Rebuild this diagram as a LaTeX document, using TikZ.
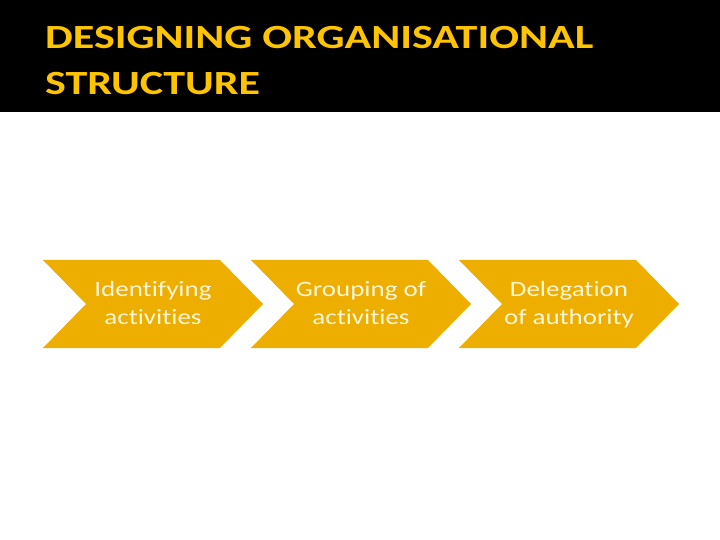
\documentclass[tikz,border=0pt]{standalone}
\usepackage{fontspec}
\setmainfont{Carlito}[Ligatures=NoCommon, FakeStretch=1.23]
\definecolor{gold}{RGB}{238,174,0}
\definecolor{titlegold}{RGB}{255,196,0}
\definecolor{cream}{RGB}{255,246,214}
\begin{document}
\begin{tikzpicture}[x=1bp, y=-1bp,
  every node/.style={font=\fontsize{22}{28}\selectfont, align=center, inner sep=0, text depth=0pt},
  chev/.style={fill=gold}
]
\useasboundingbox (0,0) rectangle (720,540);
\fill[black] (0,0) rectangle (720,112);
\node[anchor=south west, text=titlegold, font=\bfseries\fontsize{34}{46}\selectfont\addfontfeature{FakeStretch=1.3}, align=left] (title) at (45,95) {DESIGNING ORGANISATIONAL\\STRUCTURE};
\foreach \x/\n/\t in {43/ident/{Identifying\\activities}, 251/group/{Grouping of\\activities}, 459/deleg/{Delegation\\of authority}} {
  \fill[chev] (\x,260) -- ++(177,0) -- ++(43,44) -- ++(-43,44) -- ++(-177,0) -- ++(43,-44) -- cycle;
  \node[text=cream, anchor=south] (\n) at (\x+110,325) {\t};
}
\end{tikzpicture}
\end{document}
